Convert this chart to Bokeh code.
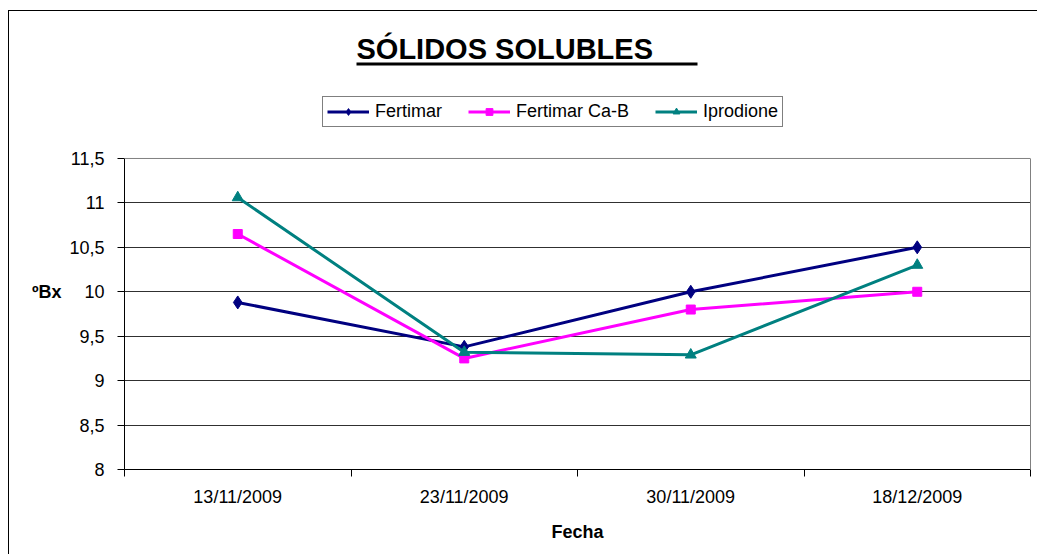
from bokeh.plotting import figure
from bokeh.models import (FixedTicker, Label, BoxAnnotation, Legend, LegendItem,
                          CustomJSTickFormatter, ColumnDataSource, LinearAxis, Span)
from bokeh.embed import file_html
from bokeh.resources import INLINE

# ---- data ----
dates = ["13/11/2009", "23/11/2009", "30/11/2009", "18/12/2009"]
fertimar = [9.88, 9.38, 10.0, 10.5]
fertimar_cab = [10.65, 9.25, 9.8, 10.0]
iprodione = [11.06, 9.32, 9.29, 10.3]
y_ticks = [8, 8.5, 9, 9.5, 10, 10.5, 11, 11.5]
series_names = ["Fertimar", "Fertimar Ca-B", "Iprodione"]
title_text = "SÓLIDOS SOLUBLES"
y_title = "ºBx"
x_title = "Fecha"

xpos = [i + 0.5 for i in range(len(dates))]
src = ColumnDataSource(dict(x=xpos, f=fertimar, c=fertimar_cab, i=iprodione))

FONT = "Liberation Sans"
Y_TOP = 13.154  # room above the plot area for title and legend

p = figure(width=1029, height=544, output_backend="svg", toolbar_location=None,
           x_range=(0, len(dates)), y_range=(y_ticks[0], Y_TOP),
           min_border_left=115, min_border_right=8, min_border_top=0,
           min_border_bottom=86)
p.styles = {"border-left": "1px solid black", "border-top": "1px solid black",
            "margin-left": "8px", "margin-top": "10px"}
p.background_fill_color = "white"
p.border_fill_color = "white"
p.outline_line_color = None

# x axis: labels at category centres, ticks at boundaries
xa = p.xaxis[0]
xa.ticker = FixedTicker(ticks=xpos, minor_ticks=list(range(len(dates) + 1)))
xa.major_label_overrides = {x: d for x, d in zip(xpos, dates)}
xa.major_tick_out = 0
xa.major_tick_in = 0
xa.minor_tick_out = 7
xa.minor_tick_in = 0
xa.minor_tick_line_color = "black"
xa.axis_line_color = "black"
xa.major_label_standoff = 10
xa.major_label_text_font = FONT
xa.major_label_text_font_size = "18px"
xa.major_label_text_color = "black"
xa.axis_label = x_title
xa.axis_label_text_font = FONT
xa.axis_label_text_font_size = "18px"
xa.axis_label_text_font_style = "bold"
xa.axis_label_text_color = "black"
xa.axis_label_standoff = 12

ya = p.yaxis[0]
ya.bounds = (y_ticks[0], y_ticks[-1])
ya.ticker = FixedTicker(ticks=y_ticks, minor_ticks=[])
ya.formatter = CustomJSTickFormatter(code="return tick.toString().replace('.', ',');")
ya.major_tick_out = 7
ya.major_tick_in = 0
ya.minor_tick_out = 0
ya.minor_tick_in = 0
ya.major_tick_line_color = "black"
ya.axis_line_color = "black"
ya.major_label_standoff = 13
ya.major_label_text_font = FONT
ya.major_label_text_font_size = "18px"
ya.major_label_text_color = "black"

# axis title "ºBx", placed level with the 10 tick as in the original
ytitle_axis = LinearAxis(ticker=FixedTicker(ticks=[10], minor_ticks=[]),
                         major_label_overrides={10: y_title},
                         axis_line_color=None, major_tick_line_color=None,
                         minor_tick_line_color=None, major_tick_out=0,
                         major_tick_in=0, major_label_standoff=5,
                         major_label_text_font=FONT,
                         major_label_text_font_size="18px",
                         major_label_text_font_style="bold",
                         major_label_text_color="black")
p.add_layout(ytitle_axis, "left")

# right border of the plot area
right_axis = LinearAxis(bounds=(y_ticks[0], y_ticks[-1]),
                        ticker=FixedTicker(ticks=[], minor_ticks=[]),
                        axis_line_color="#808080", axis_line_width=1,
                        major_tick_line_color=None, minor_tick_line_color=None,
                        major_label_text_font_size="0px")
p.add_layout(right_axis, "right")

p.xgrid.grid_line_color = None
p.ygrid.ticker = FixedTicker(ticks=y_ticks[:-1])
p.ygrid.grid_line_color = "#303030"
p.ygrid.grid_line_width = 1
# top edge of the plot area (gray)
p.add_layout(Span(location=y_ticks[-1], dimension="width",
                  line_color="#808080", line_width=1))

# ---- series ----
l1 = p.line("x", "f", source=src, line_color="#000080", line_width=3)
m1 = p.scatter("x", "f", source=src, marker="diamond", size=13,
               fill_color="#000080", line_color="#000080")
l2 = p.line("x", "c", source=src, line_color="#FF00FF", line_width=3)
m2 = p.scatter("x", "c", source=src, marker="square", size=9,
               fill_color="#FF00FF", line_color="#FF00FF")
l3 = p.line("x", "i", source=src, line_color="#008080", line_width=3)
m3 = p.scatter("x", "i", source=src, marker="triangle", size=11,
               fill_color="#008080", line_color="#008080")

legend = Legend(items=[LegendItem(label=series_names[0], renderers=[l1, m1]),
                       LegendItem(label=series_names[1], renderers=[l2, m2]),
                       LegendItem(label=series_names[2], renderers=[l3, m3])],
                orientation="horizontal", location=(198, 342),
                padding=4, margin=0, spacing=26, glyph_width=42, glyph_height=17,
                label_height=17, label_standoff=6,
                label_text_font=FONT, label_text_font_size="18px",
                label_text_color="black",
                border_line_color="black", border_line_width=1,
                background_fill_color="white", background_fill_alpha=1)
p.add_layout(legend, "center")

# ---- title with underline ----
title = Label(x=232, y=421, x_units="screen", y_units="screen",
              text=title_text, text_align="left", text_baseline="alphabetic",
              text_font=FONT, text_font_size="29px", text_font_style="bold",
              text_color="black")
p.add_layout(title)
underline = BoxAnnotation(left=232, right=573, bottom=404, top=407,
                          left_units="screen", right_units="screen",
                          bottom_units="screen", top_units="screen",
                          fill_color="black", fill_alpha=1, line_color=None)
p.add_layout(underline)

open("out.html", "w").write(file_html(p, INLINE))
